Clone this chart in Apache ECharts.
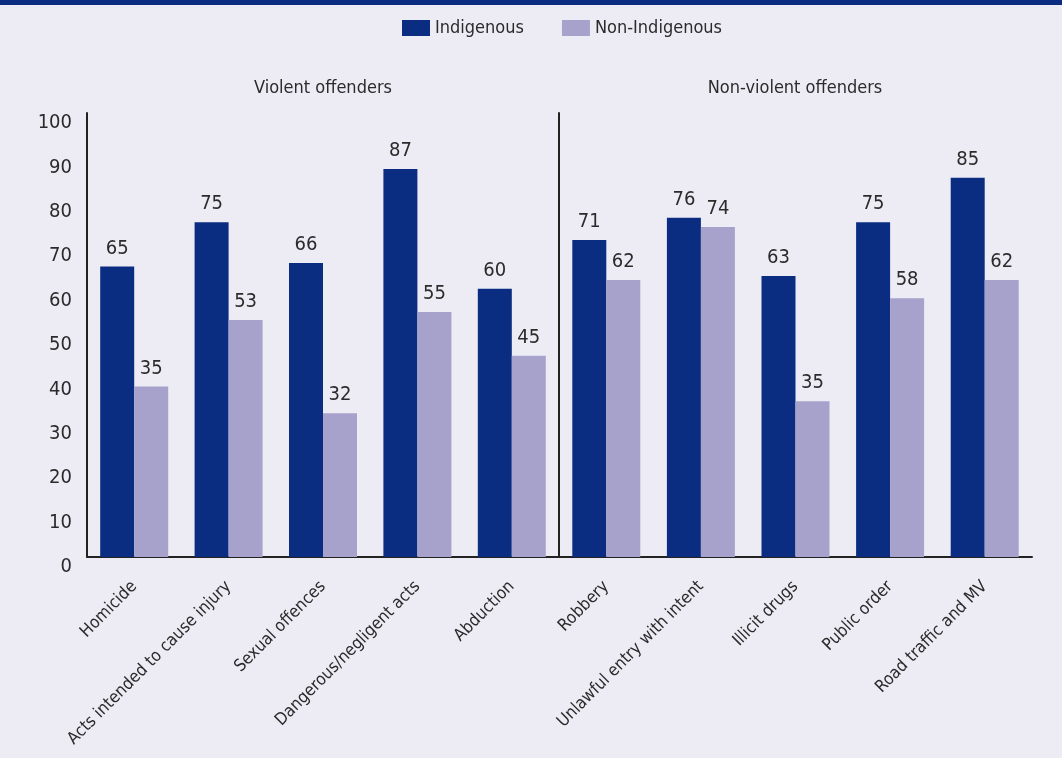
<!DOCTYPE html>
<html><head><meta charset="utf-8">
<script src="https://cdn.jsdelivr.net/npm/echarts@6/dist/echarts.min.js"></script>
<style>html,body{margin:0;padding:0;background:#EDECF5;}#c{width:1062px;height:758px;}</style>
</head><body><div id="c"></div>
<script>
const violentCats = ['Homicide','Acts intended to cause injury','Sexual offences','Dangerous/negligent acts','Abduction'];
const nonViolentCats = ['Robbery','Unlawful entry with intent','Illicit drugs','Public order','Road traffic and MV'];
const violentIndig = [65.4, 75.4, 66.2, 87.4, 60.4];
const violentNonIndig = [38.4, 53.4, 32.4, 55.2, 45.3];
const violentIndigLabels = ['65','75','66','87','60'];
const violentNonIndigLabels = ['35','53','32','55','45'];
const nonViolentIndig = [71.4, 76.4, 63.3, 75.4, 85.4];
const nonViolentNonIndig = [62.4, 74.3, 35.1, 58.3, 62.4];
const nonViolentIndigLabels = ['71','76','63','75','85'];
const nonViolentNonIndigLabels = ['62','74','35','58','62'];
const yTicks = [0,10,20,30,40,50,60,70,80,90,100];

const FONT = "'Liberation Sans Narrow','DejaVu Sans Condensed','Roboto Condensed',sans-serif";
const TXT = '#2b2b2b';
const C1 = '#0A2D82', C2 = '#A7A2CB';

const chart = echarts.init(document.getElementById('c'));
function lbl(arr){ return {show:true, position:'top', distance:8, color:TXT, fontFamily:FONT, fontSize:20,
  formatter: p => arr[p.dataIndex]}; }
function xAx(idx, cats){ return {type:'category', gridIndex:idx, data:cats,
  axisLine:{show:true, lineStyle:{color:'#222', width:2}}, axisTick:{show:false},
  axisLabel:{interval:0, rotate:45, color:TXT, fontFamily:FONT, fontSize:17, margin:27}}; }
function yAx(idx, showLabels){ return {type:'value', gridIndex:idx, min:0, max:100, interval:10,
  axisLine:{show:true, lineStyle:{color:'#222', width:2}}, axisTick:{show:false}, splitLine:{show:false},
  axisLabel:{show:showLabels, color:TXT, fontFamily:FONT, fontSize:20, margin:15, verticalAlign:'top', lineHeight:20,
    formatter: v => yTicks.includes(v) ? String(v) : ''}}; }

chart.setOption({
  backgroundColor:'#EDECF5',
  animation:false,
  graphic:[{type:'rect', left:0, top:0, shape:{width:1062, height:5}, style:{fill:'#0A2D82'}}],
  title:[
    {text:'Violent offenders', left:318, top:74, textAlign:'center', textStyle:{fontFamily:FONT, fontSize:18, fontWeight:'normal', color:TXT}},
    {text:'Non-violent offenders', left:790, top:74, textAlign:'center', textStyle:{fontFamily:FONT, fontSize:18, fontWeight:'normal', color:TXT}}
  ],
  legend:{top:14, left:397, itemWidth:28, itemHeight:16, itemGap:38,
    textStyle:{fontFamily:FONT, fontSize:18, color:TXT},
    data:[{name:'Indigenous', icon:'rect'},{name:'Non-Indigenous', icon:'rect'}]},
  grid:[
    {left:87, width:472, top:113, bottom:201},
    {left:559, width:473, top:113, bottom:201}
  ],
  xAxis:[xAx(0, violentCats), xAx(1, nonViolentCats)],
  yAxis:[yAx(0, true), yAx(1, false)],
  series:[
    {name:'Indigenous', type:'bar', xAxisIndex:0, yAxisIndex:0, data:violentIndig, barWidth:34, barGap:'0%', itemStyle:{color:C1}, label:lbl(violentIndigLabels)},
    {name:'Non-Indigenous', type:'bar', xAxisIndex:0, yAxisIndex:0, data:violentNonIndig, barWidth:34, barGap:'0%', itemStyle:{color:C2}, label:lbl(violentNonIndigLabels)},
    {name:'Indigenous', type:'bar', xAxisIndex:1, yAxisIndex:1, data:nonViolentIndig, barWidth:34, barGap:'0%', itemStyle:{color:C1}, label:lbl(nonViolentIndigLabels)},
    {name:'Non-Indigenous', type:'bar', xAxisIndex:1, yAxisIndex:1, data:nonViolentNonIndig, barWidth:34, barGap:'0%', itemStyle:{color:C2}, label:lbl(nonViolentNonIndigLabels)}
  ]
});
</script></body></html>
